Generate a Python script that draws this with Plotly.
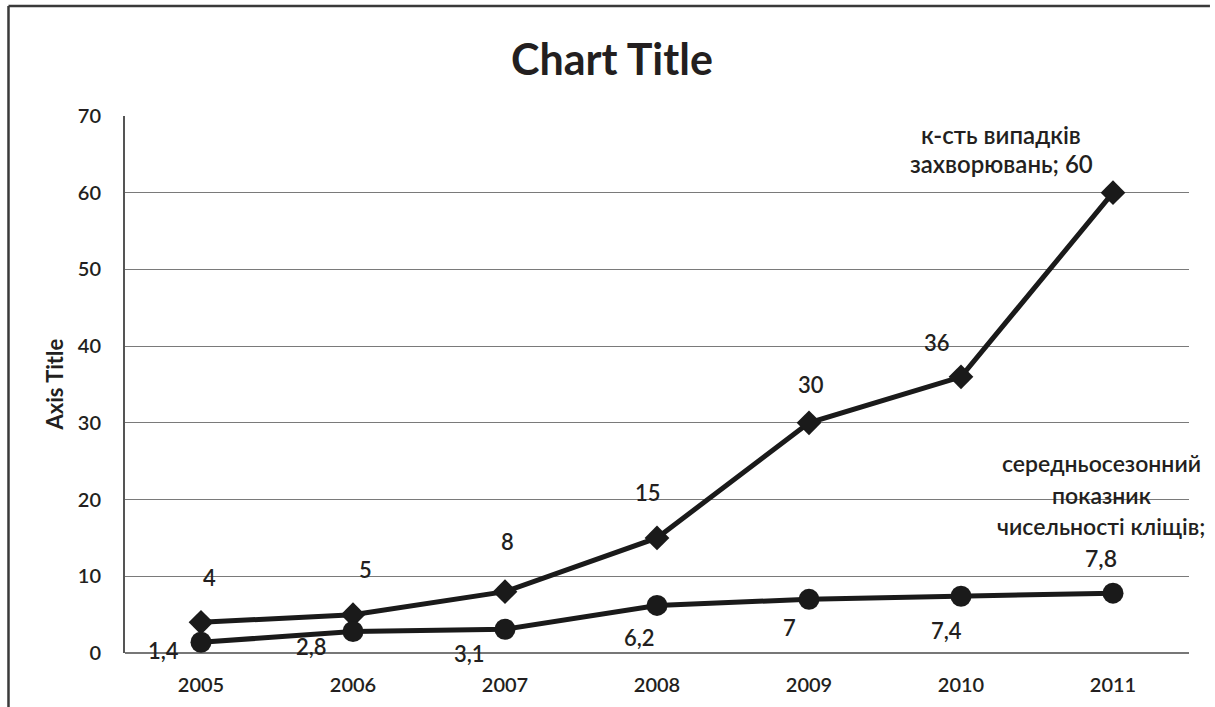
import plotly.graph_objects as go

# Years on the category axis
years = ["2005", "2006", "2007", "2008", "2009", "2010", "2011"]

# Number of disease cases
cases_name = "к-сть випадків захворювань"
cases = [4, 5, 8, 15, 30, 36, 60]

# Mean seasonal tick abundance index
ticks_name = "середньосезонний показник чисельності кліщів"
ticks = [1.4, 2.8, 3.1, 6.2, 7, 7.4, 7.8]

# Y axis ticks
y_ticks = [0, 10, 20, 30, 40, 50, 60, 70]

# Pixel offsets of the value labels from their markers (x, y; y up)
cases_label_shift = [(8, 45), (12, 45), (2, 50), (-9, 45), (2, 38), (-24, 34)]
ticks_label_shift = [(-38, -8), (-42, -15), (-36, -24), (-18, -32), (-20, -28), (-15, -34)]

# Line breaks for the series-name labels on the last point
cases_name_lines = ["к-сть випадків", "захворювань; {v}"]
ticks_name_lines = ["середньосезонний", "показник", "чисельності кліщів;", "{v}"]

FONT = "Lato, 'Noto Sans', sans-serif"
INK = "#231f20"
LINE = "#1a1a1a"


def fmt(v):
    s = ("%g" % v)
    return s.replace(".", ",")


fig = go.Figure()

fig.add_trace(go.Scatter(
    x=years, y=cases, mode="lines+markers", name=cases_name,
    line=dict(color=LINE, width=5),
    marker=dict(symbol="diamond", size=19, color=LINE),
    cliponaxis=False,
))
fig.add_trace(go.Scatter(
    x=years, y=ticks, mode="lines+markers", name=ticks_name,
    line=dict(color=LINE, width=5),
    marker=dict(symbol="circle", size=21, color=LINE),
    cliponaxis=False,
))

annotations = []
label_font = dict(family=FONT, size=22, color=INK, weight=600)

# Annotations on the category axis are placed by category index
for i, (v, (dx, dy)) in enumerate(zip(cases[:-1], cases_label_shift)):
    annotations.append(dict(x=i, y=v, text=fmt(v), showarrow=False,
                            xshift=dx, yshift=dy, font=label_font))
for i, (v, (dx, dy)) in enumerate(zip(ticks[:-1], ticks_label_shift)):
    annotations.append(dict(x=i, y=v, text=fmt(v), showarrow=False,
                            xshift=dx, yshift=dy, font=label_font))

# Series-name labels at the last point, one annotation per line
last = len(years) - 1
for i, ln in enumerate(cases_name_lines):
    annotations.append(dict(x=last, y=cases[-1], text=ln.format(v=fmt(cases[-1])),
                            showarrow=False, xshift=-112, yshift=58 - 29 * i,
                            font=dict(family=FONT, size=24, color=INK, weight=600)))
for i, ln in enumerate(ticks_name_lines):
    annotations.append(dict(x=last, y=ticks[-1], text=ln.format(v=fmt(ticks[-1])),
                            showarrow=False, xshift=-12, yshift=130 - 31.5 * i,
                            font=dict(family=FONT, size=23, color=INK, weight=600)))

# Chart title and axis title
annotations.append(dict(xref="paper", yref="paper", x=0.458, y=1.108,
                        xanchor="center", yanchor="middle",
                        text="<b>Chart Title</b>", showarrow=False,
                        font=dict(family=FONT, size=43, color=INK)))
annotations.append(dict(xref="paper", yref="paper", x=-0.0667, y=0.5,
                        xanchor="center", yanchor="middle",
                        text="<b>Axis Title</b>", textangle=-90, showarrow=False,
                        font=dict(family=FONT, size=22, color=INK)))

# Chart-area frame (top and left edges)
shapes = [
    dict(type="line", xref="paper", yref="paper", x0=-0.1095, x1=1.0197,
         y0=1.2048, y1=1.2048, line=dict(color="#3a3a3a", width=2.5)),
    dict(type="line", xref="paper", yref="paper", x0=-0.1095, x1=-0.1095,
         y0=1.2048, y1=-0.12, line=dict(color="#3a3a3a", width=2.5)),
]

fig.update_layout(
    width=1215, height=707,
    margin=dict(l=125, r=26, t=116, b=54),
    paper_bgcolor="white", plot_bgcolor="white",
    showlegend=False,
    annotations=annotations,
    shapes=shapes,
    font=dict(family=FONT, color=INK),
    xaxis=dict(
        type="category", range=[-0.5, 6.5],
        showgrid=False, showline=False, zeroline=False,
        ticks="", ticklabelstandoff=18,
        tickfont=dict(family=FONT, size=20, color=INK, weight=600),
    ),
    yaxis=dict(
        range=[0, 70], tickvals=y_ticks,
        showgrid=True, gridcolor="#7a7a7a", gridwidth=1.3,
        showline=True, linecolor="#555555", linewidth=2,
        zeroline=True, zerolinecolor="#777777", zerolinewidth=1.5,
        ticks="", ticklabelstandoff=18,
        tickfont=dict(family=FONT, size=20, color=INK, weight=600),
    ),
)

fig.write_html("out.html")
